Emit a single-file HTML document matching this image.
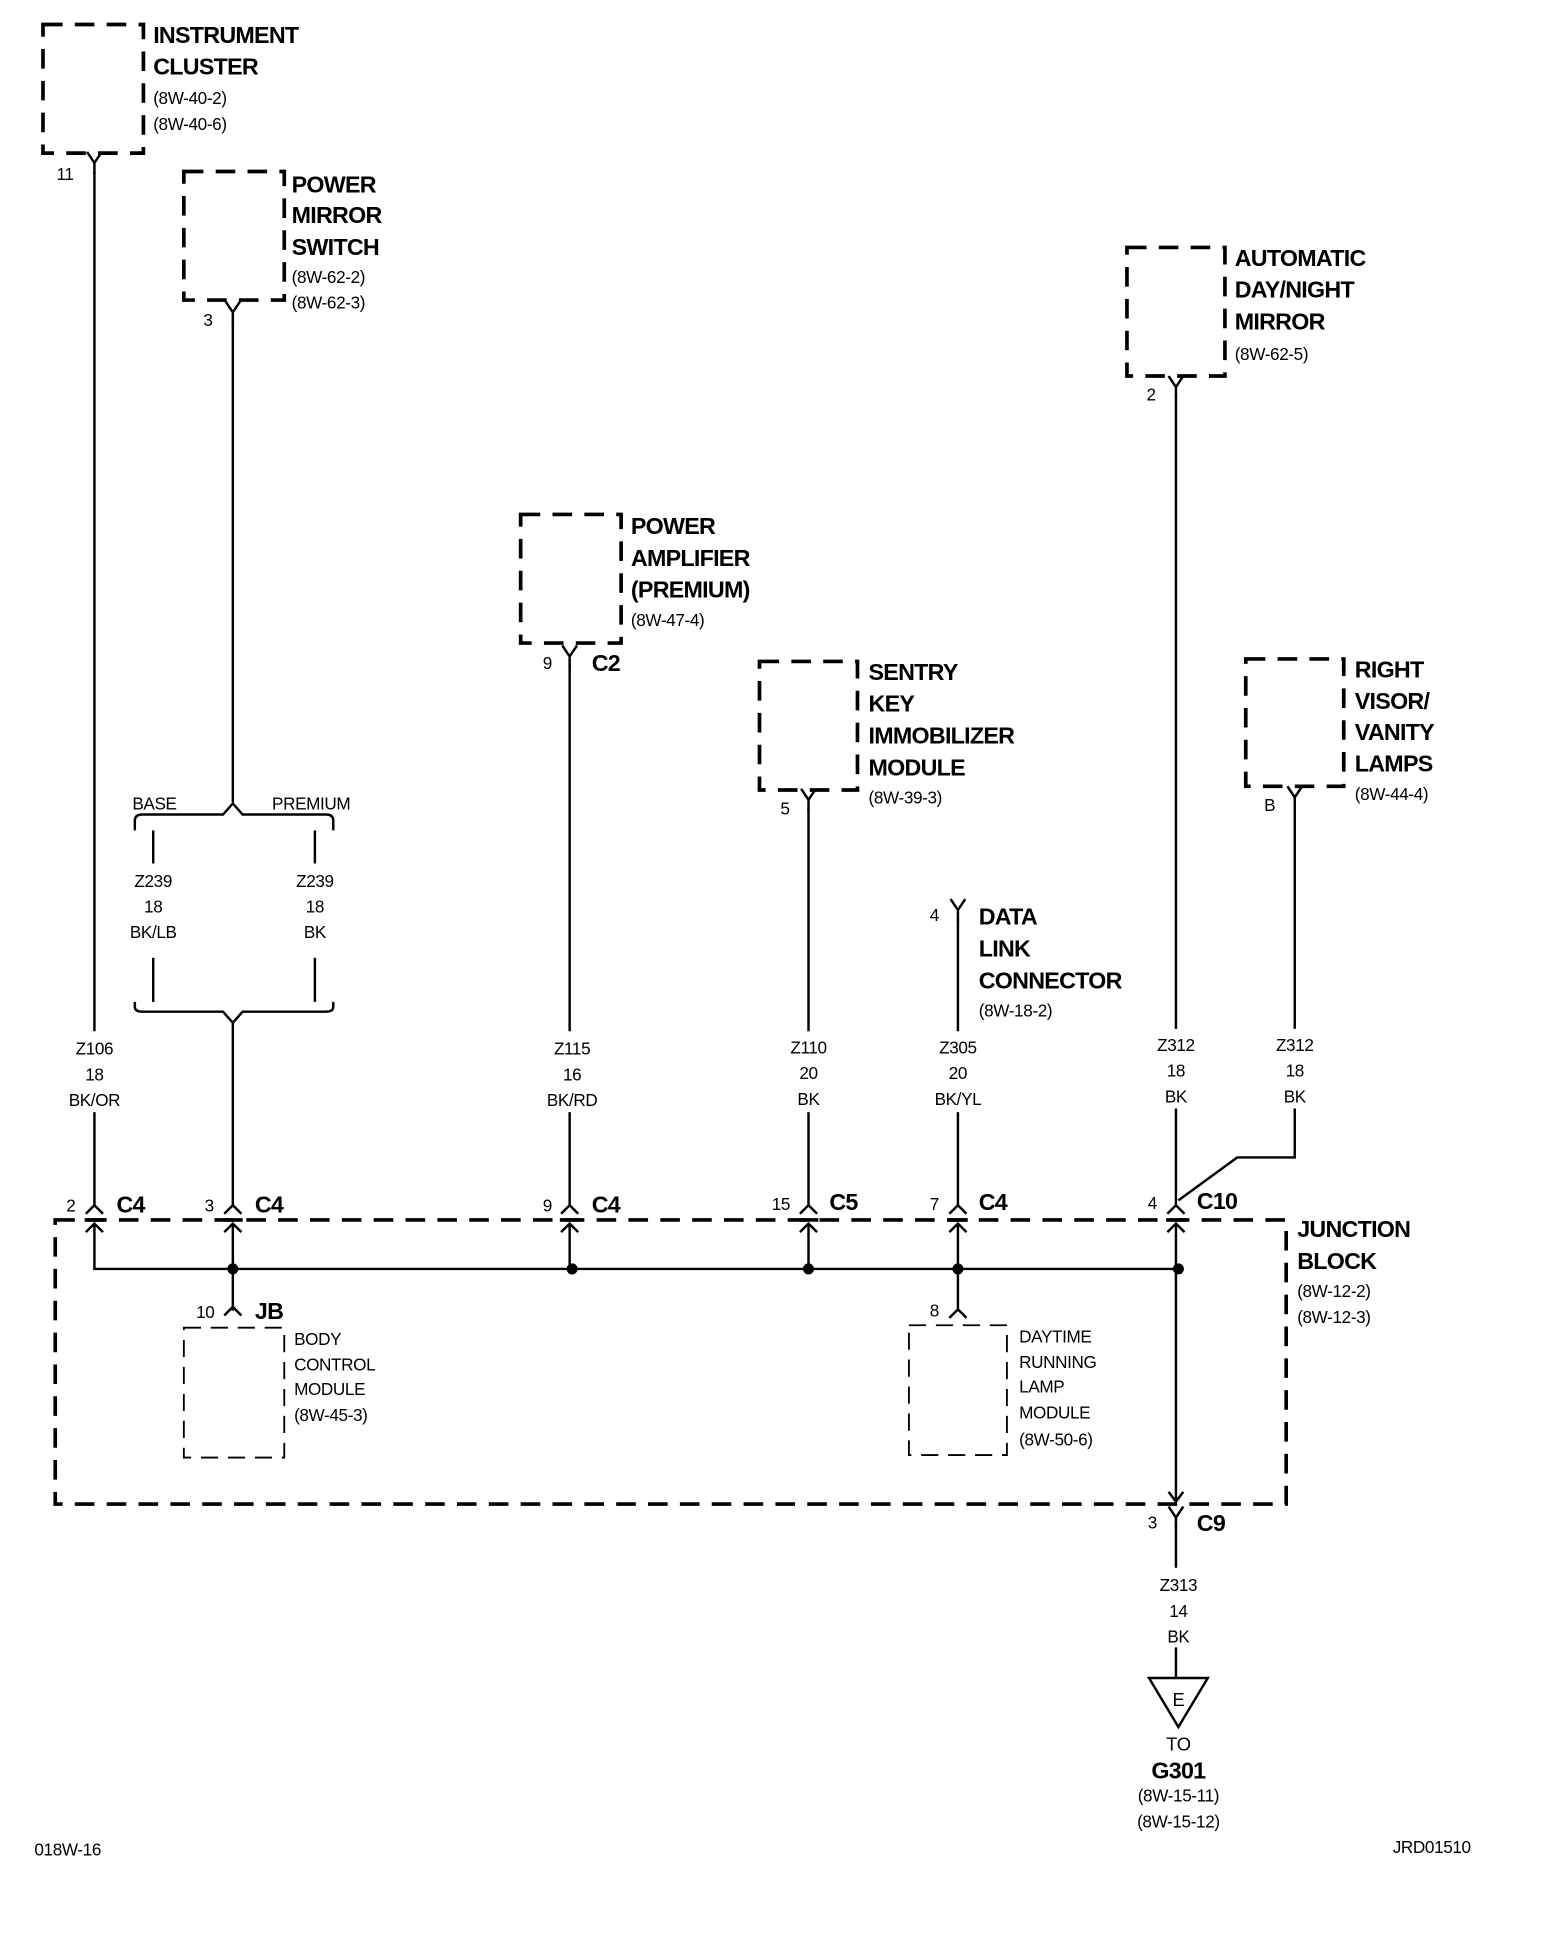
<!DOCTYPE html>
<html><head><meta charset="utf-8"><style>
html,body{margin:0;padding:0;background:#fff}
svg{display:block}
text{font-family:"Liberation Sans",sans-serif;fill:#000}
.b{font-weight:bold;font-size:19px;letter-spacing:-0.6px}
.s{font-size:14px;letter-spacing:-0.3px}
.m{font-size:15px}
</style></head><body>
<svg width="1568" height="1934" viewBox="0 0 1280 1579" xmlns="http://www.w3.org/2000/svg">
<defs>
<g id="yc"><path d="M-6,-6 L0,3 L6,-6 M0,3 L0,12" stroke="#000" stroke-width="2" fill="none"/></g>
<g id="ac"><path d="M-7,7 L0,0 L7,7" stroke="#000" stroke-width="2" fill="none"/></g>
<g id="cc"><path d="M-7,-5 L0,-12 L7,-5" stroke="#000" stroke-width="2" fill="none"/><path d="M-8,0 L8,0" stroke="#000" stroke-width="3"/><path d="M-7,10 L0,3 L7,10" stroke="#000" stroke-width="2" fill="none"/></g>
</defs>
<g fill="none" stroke="#000" stroke-width="3" stroke-dasharray="16,10">
<rect x="35" y="20" width="82" height="105"/>
<rect x="150" y="140" width="82" height="105"/>
<rect x="425" y="420" width="82" height="105"/>
<rect x="620" y="540" width="80" height="105"/>
<rect x="920" y="202" width="80" height="105"/>
<rect x="1017" y="538" width="80" height="104"/>
<rect x="45" y="996" width="1005" height="232"/>
</g>
<g fill="none" stroke="#000" stroke-width="1.5" stroke-dasharray="14,8">
<rect x="150" y="1084" width="82" height="106"/>
<rect x="742" y="1082" width="80" height="106"/>
</g>
<g stroke="#000" stroke-width="2" fill="none">
<line x1="77" y1="140" x2="77" y2="842"/><line x1="77" y1="908" x2="77" y2="984"/>
<line x1="190" y1="262" x2="190" y2="655"/>
<path d="M110,678 L110,670 Q110,665 116,665 L182,665 L190,656 L198,665 L266,665 Q272,665 272,670 L272,678"/>
<line x1="125" y1="678" x2="125" y2="705"/><line x1="257" y1="678" x2="257" y2="705"/>
<line x1="125" y1="782" x2="125" y2="818"/><line x1="257" y1="782" x2="257" y2="818"/>
<path d="M110,818 L110,822 Q110,826 116,826 L182,826 L190,835 L198,826 L266,826 Q272,826 272,822 L272,818"/>
<line x1="190" y1="835" x2="190" y2="984"/>
<line x1="465" y1="543" x2="465" y2="842"/><line x1="465" y1="908" x2="465" y2="984"/>
<line x1="660" y1="660" x2="660" y2="842"/><line x1="660" y1="908" x2="660" y2="984"/>
<line x1="782" y1="750" x2="782" y2="842"/><line x1="782" y1="908" x2="782" y2="984"/>
<line x1="960" y1="323" x2="960" y2="840"/><line x1="960" y1="905" x2="960" y2="984"/>
<path d="M1057,658 L1057,840 M1057,905 L1057,945 L1010,945 L962,980"/>
<path d="M77,1000 L77,1036 L962,1036"/>
<line x1="190" y1="1000" x2="190" y2="1070"/>
<line x1="465" y1="1000" x2="465" y2="1036"/>
<line x1="660" y1="1000" x2="660" y2="1036"/>
<line x1="782" y1="1000" x2="782" y2="1070"/>
<line x1="960" y1="1000" x2="960" y2="1226"/>
<line x1="960" y1="1245" x2="960" y2="1280"/><line x1="960" y1="1345" x2="960" y2="1370"/>
<polygon points="938,1370 986,1370 962,1410"/>
</g>
<g fill="#000"><circle cx="190" cy="1036" r="4.5"/><circle cx="467" cy="1036" r="4.5"/><circle cx="660" cy="1036" r="4.5"/><circle cx="782" cy="1036" r="4.5"/><circle cx="962" cy="1036" r="4.5"/></g>
<use href="#yc" x="77" y="130"/><use href="#yc" x="190" y="252"/><use href="#yc" x="465" y="533"/><use href="#yc" x="660" y="650"/><use href="#yc" x="782" y="740"/><use href="#yc" x="960" y="313"/><use href="#yc" x="1057" y="648"/>
<use href="#cc" x="77" y="996"/><use href="#cc" x="190" y="996"/><use href="#cc" x="465" y="996"/><use href="#cc" x="660" y="996"/><use href="#cc" x="782" y="996"/><use href="#cc" x="960" y="996"/>
<use href="#ac" x="190" y="1067"/><use href="#ac" x="782" y="1069"/>
<path d="M954,1218 L960,1226 L966,1218" stroke="#000" stroke-width="2" fill="none"/>
<use href="#yc" x="960" y="1236"/>
<text class="b" x="125" y="35">INSTRUMENT</text><text class="b" x="125" y="61">CLUSTER</text>
<text class="s" x="125" y="85">(8W-40-2)</text><text class="s" x="125" y="106">(8W-40-6)</text>
<text class="s" x="46" y="147">11</text>
<text class="b" x="238" y="157">POWER</text><text class="b" x="238" y="182">MIRROR</text><text class="b" x="238" y="208">SWITCH</text>
<text class="s" x="238" y="231">(8W-62-2)</text><text class="s" x="238" y="252">(8W-62-3)</text>
<text class="s" x="166" y="266">3</text>
<text class="b" x="515" y="436">POWER</text><text class="b" x="515" y="462">AMPLIFIER</text><text class="b" x="515" y="488">(PREMIUM)</text>
<text class="s" x="515" y="511">(8W-47-4)</text>
<text class="s" x="443" y="546">9</text><text class="b" x="483" y="548">C2</text>
<text class="b" x="709" y="555">SENTRY</text><text class="b" x="709" y="581">KEY</text><text class="b" x="709" y="607">IMMOBILIZER</text><text class="b" x="709" y="633">MODULE</text>
<text class="s" x="709" y="656">(8W-39-3)</text>
<text class="s" x="637" y="665">5</text>
<text class="b" x="1008" y="217">AUTOMATIC</text><text class="b" x="1008" y="243">DAY/NIGHT</text><text class="b" x="1008" y="269">MIRROR</text>
<text class="s" x="1008" y="294">(8W-62-5)</text>
<text class="s" x="936" y="327">2</text>
<text class="b" x="1106" y="553">RIGHT</text><text class="b" x="1106" y="579">VISOR/</text><text class="b" x="1106" y="604">VANITY</text><text class="b" x="1106" y="630">LAMPS</text>
<text class="s" x="1106" y="653">(8W-44-4)</text>
<text class="s" x="1032" y="662">B</text>
<text class="s" x="759" y="752">4</text>
<text class="b" x="799" y="755">DATA</text><text class="b" x="799" y="781">LINK</text><text class="b" x="799" y="807">CONNECTOR</text>
<text class="s" x="799" y="830">(8W-18-2)</text>
<text class="s" x="108" y="661">BASE</text><text class="s" x="222" y="661">PREMIUM</text>
<g class="s" text-anchor="middle">
<text x="125" y="724">Z239</text><text x="125" y="745">18</text><text x="125" y="766">BK/LB</text>
<text x="257" y="724">Z239</text><text x="257" y="745">18</text><text x="257" y="766">BK</text>
<text x="77" y="861">Z106</text><text x="77" y="882">18</text><text x="77" y="903">BK/OR</text>
<text x="467" y="861">Z115</text><text x="467" y="882">16</text><text x="467" y="903">BK/RD</text>
<text x="660" y="860">Z110</text><text x="660" y="881">20</text><text x="660" y="902">BK</text>
<text x="782" y="860">Z305</text><text x="782" y="881">20</text><text x="782" y="902">BK/YL</text>
<text x="960" y="858">Z312</text><text x="960" y="879">18</text><text x="960" y="900">BK</text>
<text x="1057" y="858">Z312</text><text x="1057" y="879">18</text><text x="1057" y="900">BK</text>
<text x="962" y="1299">Z313</text><text x="962" y="1320">14</text><text x="962" y="1341">BK</text>
<text x="962" y="1393" class="m">E</text>
<text x="962" y="1429" class="m">TO</text>
<text x="962" y="1452" class="b" style="font-size:19px">G301</text>
<text x="962" y="1471">(8W-15-11)</text><text x="962" y="1492">(8W-15-12)</text>
</g>
<text class="s" x="54" y="989">2</text><text class="b" x="95" y="990">C4</text>
<text class="s" x="167" y="989">3</text><text class="b" x="208" y="990">C4</text>
<text class="s" x="443" y="989">9</text><text class="b" x="483" y="990">C4</text>
<text class="s" x="630" y="988">15</text><text class="b" x="677" y="988">C5</text>
<text class="s" x="759" y="988">7</text><text class="b" x="799" y="988">C4</text>
<text class="s" x="937" y="987">4</text><text class="b" x="977" y="987">C10</text>
<text class="b" x="1059" y="1010">JUNCTION</text><text class="b" x="1059" y="1036">BLOCK</text>
<text class="s" x="1059" y="1059">(8W-12-2)</text><text class="s" x="1059" y="1080">(8W-12-3)</text>
<text class="s" x="160" y="1076">10</text><text class="b" x="208" y="1077">JB</text>
<text class="s" x="240" y="1098">BODY</text><text class="s" x="240" y="1119">CONTROL</text><text class="s" x="240" y="1139">MODULE</text><text class="s" x="240" y="1160">(8W-45-3)</text>
<text class="s" x="759" y="1075">8</text>
<text class="s" x="832" y="1096">DAYTIME</text><text class="s" x="832" y="1117">RUNNING</text><text class="s" x="832" y="1137">LAMP</text><text class="s" x="832" y="1158">MODULE</text><text class="s" x="832" y="1180">(8W-50-6)</text>
<text class="s" x="937" y="1248">3</text><text class="b" x="977" y="1250">C9</text>
<text class="s" x="28" y="1515">018W-16</text>
<text class="s" x="1137" y="1513">JRD01510</text>
</svg>
</body></html>
